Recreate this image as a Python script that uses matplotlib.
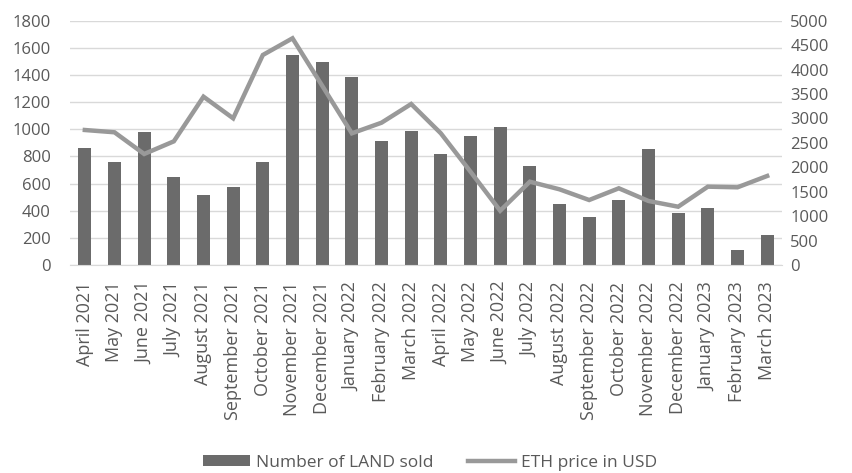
import matplotlib
matplotlib.use("Agg")
import matplotlib.pyplot as plt
import numpy as np

months = ["April 2021", "May 2021", "June 2021", "July 2021", "August 2021",
          "September 2021", "October 2021", "November 2021", "December 2021",
          "January 2022", "February 2022", "March 2022", "April 2022",
          "May 2022", "June 2022", "July 2022", "August 2022",
          "September 2022", "October 2022", "November 2022", "December 2022",
          "January 2023", "February 2023", "March 2023"]

land_sold = [864, 761, 980, 648, 516, 575, 761, 1547, 1494, 1385, 914, 987,
             820, 953, 1015, 730, 450, 351, 477, 855, 386, 420, 108, 219]

eth_price = [2763, 2716, 2272, 2531, 3445, 3002, 4298, 4640, 3670, 2695, 2912, 3295,
             2695, 1910, 1111, 1705, 1549, 1330, 1570, 1310, 1193, 1603, 1590, 1822]

bar_color = "#6b6b6b"
line_color = "#999999"
text_color = "#595959"

plt.rcParams["font.family"] = ["Open Sans", "DejaVu Sans"]

fig = plt.figure(figsize=(8.52, 4.73), dpi=100)
ax = fig.add_axes([70 / 852, 1 - 265 / 473, 712 / 852, 244.3 / 473])
ax2 = ax.twinx()

x = np.arange(len(months))
bars = ax.bar(x, land_sold, width=0.43, color=bar_color, zorder=2,
              label="Number of LAND sold")
line, = ax2.plot(x, eth_price, color=line_color, linewidth=3.2,
                 solid_joinstyle="miter", label="ETH price in USD", zorder=3)

ax.set_xlim(-0.5, len(months) - 0.5)
ax.set_ylim(0, 1800)
ax.set_yticks(np.arange(0, 1801, 200))
ax2.set_ylim(0, 5000)
ax2.set_yticks(np.arange(0, 5001, 500))

ax.grid(axis="y", color="#d9d9d9", linewidth=1.0, zorder=0)
ax.set_axisbelow(True)

for a in (ax, ax2):
    for s in a.spines.values():
        s.set_visible(False)
    a.tick_params(length=0, colors=text_color, labelsize=12)
ax.spines["bottom"].set_visible(True)
ax.spines["bottom"].set_color("#d9d9d9")

ax.set_xticks(x)
ax.set_xticklabels(months, rotation=90, fontsize=13, color=text_color)
ax.tick_params(axis="x", pad=12)
ax.tick_params(axis="y", pad=14)
ax2.tick_params(axis="y", pad=6)

ax.set_zorder(ax2.get_zorder() - 1)
ax.patch.set_visible(False)
ax2.patch.set_visible(False)

fig.legend([bars, line], ["Number of LAND sold", "ETH price in USD"],
           loc="center", bbox_to_anchor=(430 / 852, 1 - 463 / 473), ncol=2,
           frameon=False, fontsize=12.5, labelcolor=text_color,
           handlelength=2.7, handleheight=0.6, columnspacing=2.0,
           handletextpad=0.35, borderpad=0)

fig.savefig("out.png", dpi=100)
plt.close(fig)
